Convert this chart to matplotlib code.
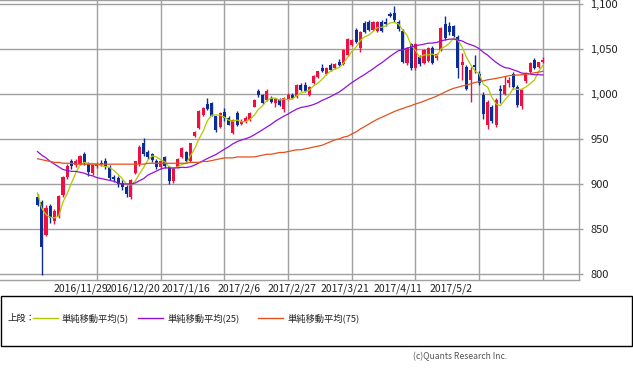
import numpy as np
import pandas as pd
import matplotlib
matplotlib.use("Agg")
import matplotlib.pyplot as plt
from matplotlib.lines import Line2D
from matplotlib.patches import Rectangle

plt.rcParams["font.family"] = ["Noto Sans CJK JP", "DejaVu Sans"]

# trading days (TSE), 2016/11/8 - 2017/5/2
holidays = ["2016-11-23", "2016-12-23", "2017-01-02", "2017-01-03", "2017-01-09", "2017-03-20"]
dates = pd.bdate_range("2016-11-08", "2017-05-02")
dates = dates[~dates.isin(pd.to_datetime(holidays))]

opens = [886, 880, 843, 875, 859, 864, 888, 908, 925, 921,
         922, 933, 922, 912, 920, 923, 925, 919, 908, 907,
         901, 897, 885, 912, 922, 946, 936, 933, 926, 919,
         930, 919, 903, 919, 930, 936, 925, 953, 962, 977,
         989, 990, 975, 963, 980, 973, 957, 979, 967, 969,
         971, 986, 1003, 999, 993, 996, 990, 993, 983, 994,
         999, 997, 1010, 1010, 999, 1012, 1019, 1029, 1022, 1032,
         1029, 1036, 1033, 1043, 1054, 1071, 1051, 1079, 1080, 1071,
         1070, 1080, 1080, 1089, 1090, 1080, 1070, 1034, 1055, 1029,
         1041, 1034, 1037, 1051, 1040, 1049, 1078, 1076, 1075, 1063,
         1032, 1030, 1016, 1032, 1022, 999, 966, 986, 966, 1006,
         1000, 1012, 1022, 1008, 987, 1014, 1024, 1038, 1030, 1035]
highs = [889, 882, 877, 878, 872, 888, 909, 922, 928, 928,
         932, 936, 924, 922, 924, 927, 929, 921, 910, 909,
         904, 899, 906, 926, 943, 951, 938, 934, 928, 927,
         931, 920, 919, 929, 941, 937, 946, 959, 982, 985,
         995, 991, 976, 980, 984, 975, 972, 981, 972, 975,
         980, 994, 1005, 1000, 1005, 998, 995, 995, 997, 1001,
         1001, 1011, 1012, 1013, 1009, 1021, 1026, 1033, 1030, 1034,
         1034, 1039, 1050, 1062, 1061, 1073, 1070, 1081, 1082, 1081,
         1081, 1082, 1084, 1091, 1098, 1082, 1072, 1052, 1057, 1057,
         1043, 1050, 1052, 1053, 1046, 1074, 1087, 1080, 1077, 1065,
         1045, 1032, 1030, 1043, 1025, 1002, 993, 988, 995, 1010,
         1020, 1019, 1024, 1010, 1006, 1024, 1035, 1040, 1036, 1041]
lows = [875, 799, 842, 857, 856, 862, 886, 906, 917, 919,
        921, 921, 909, 910, 918, 920, 917, 904, 902, 897,
        893, 886, 883, 911, 920, 931, 928, 924, 917, 917,
        918, 900, 901, 918, 929, 923, 924, 952, 961, 976,
        982, 975, 958, 962, 970, 965, 955, 964, 965, 968,
        970, 985, 997, 989, 992, 990, 985, 987, 980, 993,
        994, 996, 1003, 1002, 998, 1011, 1018, 1024, 1021, 1026,
        1028, 1031, 1032, 1042, 1053, 1057, 1047, 1068, 1070, 1070,
        1069, 1069, 1076, 1086, 1080, 1070, 1034, 1032, 1027, 1027,
        1031, 1033, 1035, 1033, 1038, 1048, 1060, 1066, 1063, 1018,
        1016, 1004, 991, 1023, 1010, 972, 961, 968, 963, 990,
        999, 1008, 1006, 986, 983, 1012, 1022, 1028, 1029, 1034]
closes = [877, 830, 873, 862, 870, 887, 908, 920, 920, 926,
          931, 923, 913, 921, 922, 922, 919, 907, 905, 900,
          897, 889, 904, 925, 941, 933, 930, 927, 919, 926,
          920, 903, 918, 928, 940, 925, 945, 958, 981, 984,
          983, 976, 960, 979, 973, 966, 971, 966, 970, 973,
          979, 993, 999, 990, 1003, 991, 994, 988, 996, 999,
          996, 1010, 1004, 1003, 1008, 1020, 1025, 1025, 1029, 1027,
          1033, 1032, 1049, 1061, 1060, 1058, 1069, 1069, 1071, 1080,
          1080, 1070, 1078, 1087, 1082, 1072, 1035, 1051, 1029, 1055,
          1033, 1049, 1051, 1034, 1044, 1073, 1062, 1069, 1064, 1029,
          1036, 1006, 1027, 1030, 1012, 978, 991, 970, 993, 1003,
          1010, 1016, 1008, 988, 1004, 1023, 1034, 1029, 1035, 1038]

# moving averages at the start of the window (history before 2016/11/8)
ma5_head = [890, 873, 866, 863]
ma25_head = [936, 932, 929, 925, 922, 919, 916, 915, 914, 914, 913, 912,
             910, 909, 907, 906, 905, 904, 903, 901, 900, 900, 900, 901]
ma75_head = [928, 927, 926, 925, 924, 924, 923, 923,
             923, 922, 922, 922, 922, 922, 922, 922, 922, 922, 922, 922, 922, 922, 922, 922,
             922, 922, 923, 923, 923, 923, 923, 923, 923, 923, 923, 923, 924, 924,
             924, 925, 925, 926, 927, 928, 929,
             929, 929, 930, 930, 930, 930, 930,
             931, 932, 933, 933, 934, 935, 935, 936,
             937, 938, 938, 939, 940, 941, 942,
             943, 945, 947, 949, 950, 952, 953]

tick_dates = ["2016-11-29", "2016-12-20", "2017-01-16", "2017-02-06",
              "2017-02-27", "2017-03-21", "2017-04-11", "2017-05-02"]
yticks = [800, 850, 900, 950, 1000, 1050, 1100]

legend_labels = ["単純移動平均(5)", "単純移動平均(25)", "単純移動平均(75)"]
ma_colors = ["#b2c800", "#9410dc", "#e4501c"]
up_color = "#f01040"
down_color = "#0c2c98"
grid_color = "#a0a0a0"


def moving_average(close, n, head):
    ma = pd.Series(close, dtype=float).rolling(n).mean()
    ma.iloc[:len(head)] = head
    return ma.values


def main():
    x = np.arange(len(dates))
    o = np.array(opens, dtype=float)
    h = np.array(highs, dtype=float)
    l = np.array(lows, dtype=float)
    c = np.array(closes, dtype=float)

    fig = plt.figure(figsize=(6.33, 3.70), dpi=100)
    W, H = 633, 370
    ax = fig.add_axes([0, (H - 280) / H, 579 / W, 280 / H])

    xmin, xmax = -8.83, 127.5
    ax.set_xlim(xmin, xmax)
    ax.set_ylim(793.3, 1104.4)

    tick_idx = [dates.get_loc(pd.Timestamp(d)) for d in tick_dates]
    ax.set_xticks(tick_idx)
    ax.set_xticklabels([])
    ax.tick_params(axis="x", length=0)
    ax.set_yticks(yticks)
    ax.set_yticklabels([f"{v:,}" for v in yticks], fontsize=8, color="#222222")
    ax.yaxis.tick_right()
    ax.tick_params(axis="y", length=3, width=1, color=grid_color, pad=5)
    ax.grid(True, color=grid_color, linewidth=1)
    ax.set_axisbelow(True)
    for side in ["top", "right", "bottom"]:
        ax.spines[side].set_color(grid_color)
        ax.spines[side].set_linewidth(1)
    ax.spines["left"].set_visible(False)

    # candles
    up = c >= o
    colors = np.where(up, up_color, down_color)
    ax.vlines(x, l, h, colors=colors, linewidth=1, zorder=3)
    body = np.maximum(np.abs(c - o), 0.8)
    ax.bar(x, body, bottom=np.minimum(o, c), width=0.72, color=colors,
           linewidth=0, zorder=4)

    # moving averages
    mas = [moving_average(c, 5, ma5_head),
           moving_average(c, 25, ma25_head),
           moving_average(c, 75, ma75_head)]
    for ma, col in zip(mas, ma_colors):
        ax.plot(x, ma, color=col, linewidth=0.9, zorder=5)

    # date labels (spaced tighter than the grid, as in the original)
    for idx, d in zip(tick_idx, tick_dates):
        t = pd.Timestamp(d)
        frac = (idx - xmin) / (xmax - xmin)
        px = 0.83 * frac * 579
        fig.text(px / W, (H - 289) / H, f"{t.year}/{t.month}/{t.day}",
                 ha="center", va="center", fontsize=7.5, color="#222222")

    # legend box
    fig.add_artist(Rectangle((0.5 / W, (H - 346) / H), 631.5 / W, 50 / H,
                             transform=fig.transFigure, fill=False,
                             edgecolor="black", linewidth=1))
    ly = (H - 318) / H
    fig.text(7 / W, ly, "上段：", ha="left", va="center", fontsize=6.7, color="#222222")
    line_x = [33, 138, 258]
    for lx, lab, col in zip(line_x, legend_labels, ma_colors):
        fig.add_artist(Line2D([lx / W, (lx + 25) / W], [ly, ly],
                              transform=fig.transFigure, color=col, linewidth=1))
        fig.text((lx + 29) / W, ly, lab, ha="left", va="center",
                 fontsize=6.7, color="#222222")

    fig.text(507 / W, (H - 357) / H, "(c)Quants Research Inc.", ha="right",
             va="center", fontsize=6.2, color="#555555")

    fig.savefig("out.png", dpi=100)
    plt.close(fig)


if __name__ == "__main__":
    main()
